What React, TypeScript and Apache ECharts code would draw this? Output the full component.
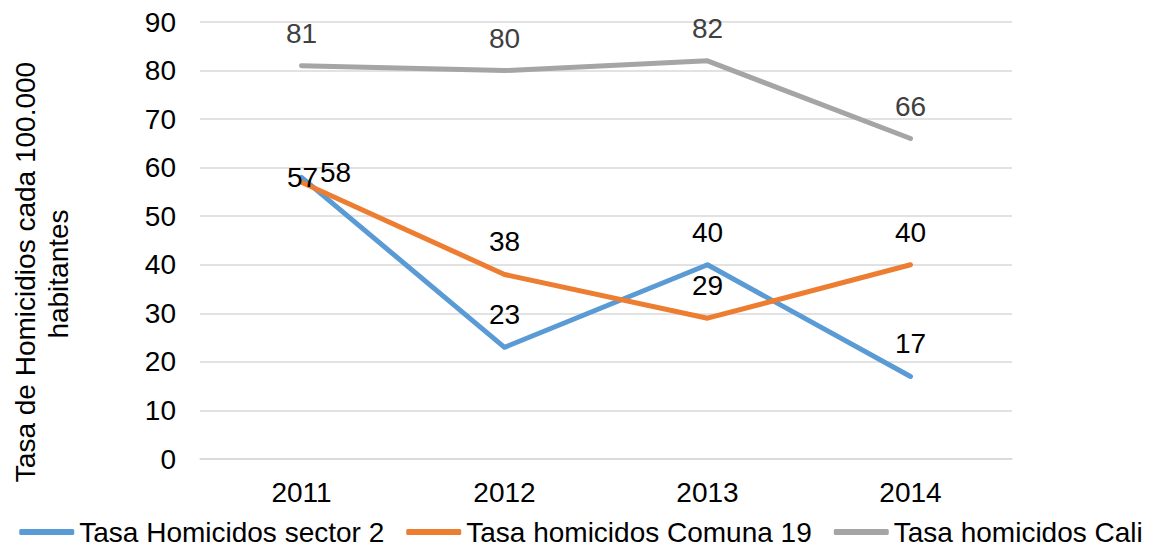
import React, { useEffect, useRef } from "react";
import * as echarts from "echarts";

const years = ["2011", "2012", "2013", "2014"];
const sector2 = [58, 23, 40, 17];
const comuna19 = [57, 38, 29, 40];
const cali = [81, 80, 82, 66];
const seriesNames = ["Tasa Homicidos sector 2", "Tasa homicidos Comuna 19", "Tasa homicidos Cali"];
const yTitle1 = "Tasa de Homicidios cada 100.000";
const yTitle2 = "habitantes";

const FONT = "Liberation Sans, Arial, sans-serif";
const FS = 28;

export default function App() {
  const ref = useRef<HTMLDivElement>(null);
  useEffect(() => {
    if (!ref.current) return;
    document.body.style.margin = "0";
    const chart = echarts.init(ref.current, undefined, { renderer: "svg" });
    const baseLabel = (color: string) => ({
      show: true,
      position: "top",
      distance: 18,
      color,
      fontSize: FS,
      fontFamily: FONT,
    });
    const mkData = (vals: number[], first?: any) =>
      vals.map((v, i) => (i === 0 && first ? { value: v, label: first } : v));
    const mkSeries = (name: string, vals: number[], color: string, labelColor: string, first?: any) => ({
      name,
      type: "line",
      data: mkData(vals, first),
      symbol: "circle",
      symbolSize: 1,
      showSymbol: true,
      lineStyle: { color, width: 5, cap: "round", join: "round" },
      itemStyle: { color },
      label: baseLabel(labelColor),
    });
    chart.setOption({
      animation: false,
      textStyle: { fontFamily: FONT },
      grid: { left: 200, right: 150, top: 22, bottom: 93 },
      legend: {
        bottom: 1,
        left: "center",
        icon: "roundRect",
        itemWidth: 55,
        itemHeight: 6,
        itemGap: 22,
        textStyle: { fontSize: FS, color: "#000", fontFamily: FONT },
        data: seriesNames,
      },
      xAxis: {
        type: "category",
        data: years,
        boundaryGap: true,
        axisLine: { show: true, lineStyle: { color: "#d9d9d9", width: 1.5 } },
        axisTick: { show: false },
        axisLabel: { fontSize: FS, color: "#000", margin: 19, fontFamily: FONT },
      },
      yAxis: {
        type: "value",
        min: 0,
        max: 90,
        interval: 10,
        axisLine: { show: false },
        axisTick: { show: false },
        axisLabel: { fontSize: FS, color: "#000", margin: 24, fontFamily: FONT },
        splitLine: { lineStyle: { color: "#d9d9d9", width: 1.5 } },
      },
      graphic: [
        {
          type: "text",
          x: 25,
          y: 272,
          rotation: Math.PI / 2,
          style: {
            text: yTitle1,
            font: `${FS}px ${FONT}`,
            fill: "#000",
            textAlign: "center",
            textVerticalAlign: "middle",
          },
        },
        {
          type: "text",
          x: 58,
          y: 274,
          rotation: Math.PI / 2,
          style: {
            text: yTitle2,
            font: `${FS}px ${FONT}`,
            fill: "#000",
            textAlign: "center",
            textVerticalAlign: "middle",
          },
        },
      ],
      series: [
        mkSeries(seriesNames[0], sector2, "#5b9bd5", "#000", {
          position: "inside",
          offset: [34, -5],
        }),
        mkSeries(seriesNames[1], comuna19, "#ed7d31", "#000", {
          position: "inside",
          offset: [1, -5],
        }),
        mkSeries(seriesNames[2], cali, "#a5a5a5", "#404040"),
      ],
    });
    return () => chart.dispose();
  }, []);
  return <div ref={ref} style={{ width: 1162, height: 552 }} />;
}
